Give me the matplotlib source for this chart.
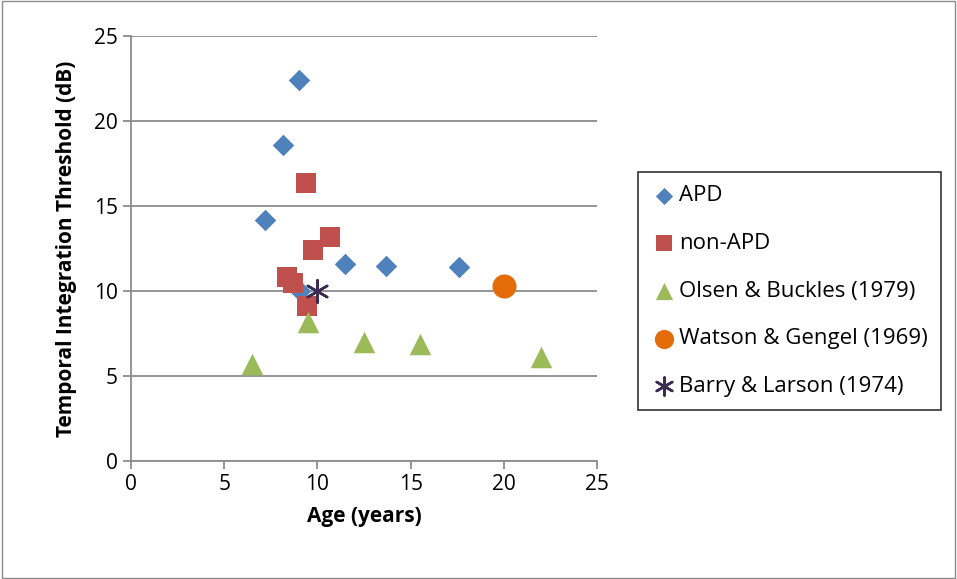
import matplotlib
matplotlib.use("Agg")
import matplotlib.pyplot as plt
from matplotlib.patches import Rectangle

plt.rcParams['font.family'] = ['Open Sans', 'DejaVu Sans']

apd_x = [9.0, 8.15, 7.2, 11.5, 13.7, 17.6, 9.05]
apd_y = [22.4, 18.6, 14.2, 11.6, 11.5, 11.4, 10.0]
non_x = [9.4, 9.75, 10.7, 8.35, 8.7, 9.45]
non_y = [16.35, 12.4, 13.2, 10.8, 10.45, 9.1]
olsen_x = [6.5, 9.5, 12.5, 15.5, 22.0]
olsen_y = [5.7, 8.2, 7.0, 6.9, 6.1]
watson_x = [20.0]
watson_y = [10.3]
barry_x = [10.0]
barry_y = [10.0]

xticks = [0, 5, 10, 15, 20, 25]
yticks = [0, 5, 10, 15, 20, 25]

fig = plt.figure(figsize=(9.57, 5.79), dpi=100)
ax = fig.add_axes([131/957, 1-461/579, (597-131)/957, (461-36)/579])

ax.scatter(apd_x, apd_y, marker='D', s=120, color='#4F81BD', label='APD', zorder=3, linewidths=0)
ax.scatter(non_x, non_y, marker='s', s=190, color='#C0504D', label='non-APD', zorder=3, linewidths=0)
ax.scatter(olsen_x, olsen_y, marker='^', s=240, color='#9BBB59', label='Olsen & Buckles (1979)', zorder=3, linewidths=0)
ax.scatter(watson_x, watson_y, marker='o', s=300, color='#E36C09', label='Watson & Gengel (1969)', zorder=3, linewidths=0)
ax.scatter(barry_x, barry_y, marker=(6, 2, 0), s=260, color='#3B2C52', label='Barry & Larson (1974)', zorder=4, linewidths=1.8)

ax.set_xlim(0, 25)
ax.set_ylim(0, 25)
ax.set_xticks(xticks)
ax.set_yticks(yticks)
ax.yaxis.grid(True, color='#8C8C8C', linewidth=1.3)
ax.set_axisbelow(True)
for s in ['top', 'right']:
    ax.spines[s].set_visible(False)
for s in ['left', 'bottom']:
    ax.spines[s].set_color('#8C8C8C')
    ax.spines[s].set_linewidth(1.3)
ax.tick_params(axis='both', colors='#8C8C8C', labelcolor='black', labelsize=15, length=6, width=1.3)

ax.set_xlabel('Age (years)', fontsize=15, fontweight='bold', labelpad=8)
ax.set_ylabel('Temporal Integration Threshold (dB)', fontsize=15, fontweight='bold', labelpad=12)

leg = fig.legend(loc='upper left', bbox_to_anchor=(638/957, 1-172/579), fontsize=16,
                 frameon=True, fancybox=False, edgecolor='black', borderpad=0.6,
                 borderaxespad=0, labelspacing=1.2, handletextpad=0.15,
                 handlelength=1.1, markerscale=0.8)
leg.get_frame().set_linewidth(1.2)

fig.patches.append(Rectangle((0.002, 0.002), 0.996, 0.996, transform=fig.transFigure,
                             fill=False, edgecolor='#8C8C8C', linewidth=1))

fig.savefig('out.png', dpi=100)
